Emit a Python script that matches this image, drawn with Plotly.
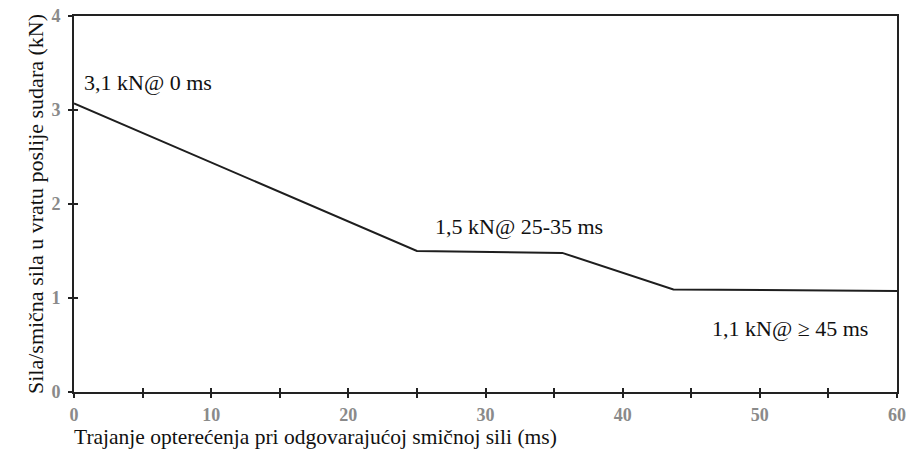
import plotly.graph_objects as go

# Data
time_ms = [0, 25, 35.6, 43.7, 60]
force_kN = [3.07, 1.50, 1.48, 1.09, 1.075]

labels = ["3,1 kN@ 0 ms", "1,5 kN@ 25-35 ms", "1,1 kN@ \u2265 45 ms"]
label_x = [0.55, 26.2, 46.4]
label_y = [3.29, 1.76, 0.68]

x_ticks = [0, 10, 20, 30, 40, 50, 60]
y_ticks = [0, 1, 2, 3, 4]

x_title = "Trajanje opterećenja pri odgovarajućoj smičnoj sili (ms)"
y_title = "Sila/smična sila u vratu poslije sudara (kN)"

SERIF = "Liberation Serif, DejaVu Serif, serif"
TICKFONT = dict(family=SERIF, size=18, color="#8a8a8a", weight="bold")
TXT = "#111"

fig = go.Figure()
fig.add_trace(go.Scatter(x=time_ms, y=force_kN, mode="lines",
                         line=dict(color="#1e1e1e", width=2), showlegend=False,
                         hoverinfo="skip"))
# invisible trace to activate overlay axes (inside tick halves)
fig.add_trace(go.Scatter(x=[time_ms[0]], y=[force_kN[0]], xaxis="x2", yaxis="y2",
                         mode="markers", marker=dict(opacity=0), showlegend=False,
                         hoverinfo="skip"))

for t, x, y in zip(labels, label_x, label_y):
    fig.add_annotation(x=x, y=y, text=t, showarrow=False, xanchor="left",
                       yanchor="middle", font=dict(family=SERIF, size=22, color=TXT))

# x-axis title, left aligned with the plot
fig.add_annotation(xref="paper", yref="paper", x=0, y=-0.153, xanchor="left", yanchor="bottom",
                   text=x_title, showarrow=False, font=dict(family=SERIF, size=21.5, color=TXT),
                   xshift=-1, borderpad=0)

axis_common = dict(showgrid=False, zeroline=False, linecolor="#222", linewidth=2)

fig.update_layout(
    width=908, height=451,
    margin=dict(l=74, r=2, t=16, b=59),
    plot_bgcolor="white", paper_bgcolor="white",
    xaxis=dict(range=[0, 60], tickvals=x_ticks,
               ticks="outside", ticklen=4, tickwidth=2, tickcolor="#222",
               minor=dict(dtick=5, ticks="outside", ticklen=4, tickwidth=2, tickcolor="#222"),
               mirror=True, tickfont=TICKFONT, ticklabeloverflow="allow",
               ticklabelstandoff=1,
               **axis_common),
    yaxis=dict(range=[0, 4], tickvals=y_ticks,
               ticks="outside", ticklen=4, tickwidth=2, tickcolor="#222",
               mirror=True, tickfont=TICKFONT, ticklabelstandoff=4,
               title=dict(text=y_title, font=dict(family=SERIF, size=22, color=TXT), standoff=2),
               **axis_common),
    xaxis2=dict(range=[0, 60], overlaying="x", side="bottom", tickvals=x_ticks,
                ticks="inside", ticklen=4, tickwidth=2, tickcolor="#222",
                minor=dict(dtick=5, ticks="inside", ticklen=4, tickwidth=2, tickcolor="#222"),
                showticklabels=False, showgrid=False, zeroline=False, showline=False),
    yaxis2=dict(range=[0, 4], overlaying="y", side="left", tickvals=y_ticks[:-1],
                ticks="inside", ticklen=4, tickwidth=2, tickcolor="#222",
                showticklabels=False, showgrid=False, zeroline=False, showline=False),
)

fig.write_html("out.html")
